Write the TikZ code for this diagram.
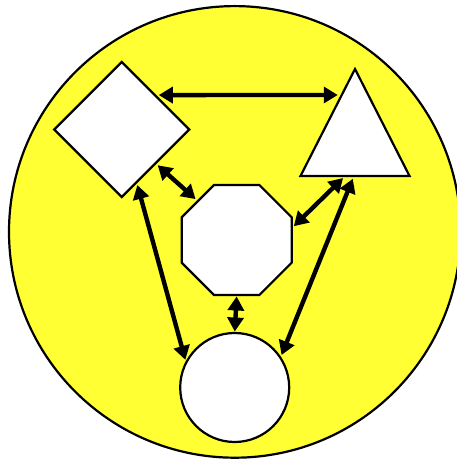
\documentclass[tikz,border=0pt]{standalone}
\usepackage{tikz}
\usetikzlibrary{arrows.meta,calc,shapes.geometric}
\definecolor{canary}{RGB}{255,255,51}

\begin{document}
\begin{tikzpicture}[x=1pt,y=1pt,
  piece/.style={draw,line width=2.2pt,fill=white,inner sep=0pt,outer sep=0pt},
  link/.style={{Triangle[length=14pt,width=16pt]}-{Triangle[length=14pt,width=16pt]},line width=4.4pt,shorten <=3pt,shorten >=3pt}]
\useasboundingbox (0,0) rectangle (457,463);
\draw[fill=canary,line width=2.2pt] (234.8,231.1) circle[radius=225.8pt];

\node[piece,diamond,minimum size=135pt] (dia) at (121.7,333.5) {};
\node[piece,isosceles triangle,isosceles triangle apex angle=54,shape border rotate=90,
  minimum width=107pt,minimum height=107pt,anchor=apex] (tri) at (355,394) {};
\node[piece,regular polygon,regular polygon sides=8,minimum size=119pt] (oct) at (236.7,223) {};
\node[piece,circle,minimum size=109pt] (circ) at (234.7,75.5) {};

\draw[link,shorten <=4pt,shorten >=4pt] ($(dia.north)!0.49!(dia.east)$) -- ($(tri.apex)!0.243!(tri.left corner)$);
\draw[link] ($(dia.east)!0.5!(dia.south)$) -- (oct.135);
\draw[link] ($(tri.left corner)!0.41!(tri.right corner)$) -- (oct.12);
\draw[link] ($(dia.south)!0.22!(dia.east)$) -- (circ.153);
\draw[link] ($(tri.left corner)!0.49!(tri.right corner)$) -- (circ.33);
\draw[link,shorten <=1.5pt,shorten >=1.5pt] (oct.south) -- (circ.north);
\end{tikzpicture}
\end{document}
